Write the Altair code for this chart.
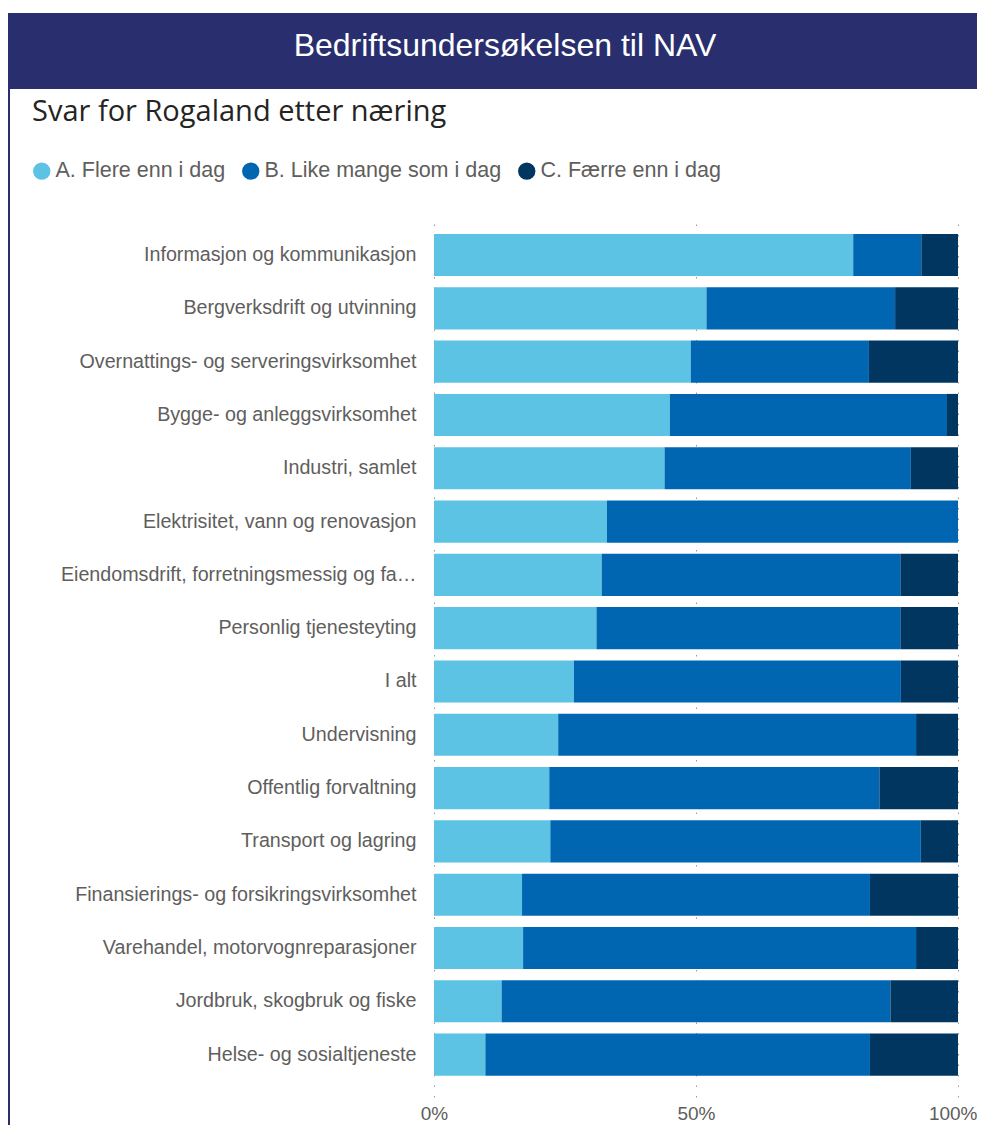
import altair as alt
import pandas as pd

# ---- data ----
categories = [
    "Informasjon og kommunikasjon",
    "Bergverksdrift og utvinning",
    "Overnattings- og serveringsvirksomhet",
    "Bygge- og anleggsvirksomhet",
    "Industri, samlet",
    "Elektrisitet, vann og renovasjon",
    "Eiendomsdrift, forretningsmessig og faglig tjenesteyting",
    "Personlig tjenesteyting",
    "I alt",
    "Undervisning",
    "Offentlig forvaltning",
    "Transport og lagring",
    "Finansierings- og forsikringsvirksomhet",
    "Varehandel, motorvognreparasjoner",
    "Jordbruk, skogbruk og fiske",
    "Helse- og sosialtjeneste",
]
flere = [80.0, 52.0, 49.0, 45.0, 44.0, 33.0, 32.0, 31.0, 26.7, 23.7, 22.0, 22.2, 16.8, 17.0, 12.9, 9.8]
like = [13.0, 36.0, 34.0, 52.9, 47.0, 67.0, 57.0, 58.0, 62.4, 68.3, 63.0, 70.7, 66.4, 75.0, 74.2, 73.4]
faerre = [7.0, 12.0, 17.0, 2.1, 9.0, 0.0, 11.0, 11.0, 10.9, 8.0, 15.0, 7.1, 16.8, 8.0, 12.9, 16.8]
series = ["A. Flere enn i dag", "B. Like mange som i dag", "C. Færre enn i dag"]
colors = ["#5CC3E5", "#0066B2", "#00365F"]
x_ticks = [0, 50, 100]
header_title = "Bedriftsundersøkelsen til NAV"
subtitle = "Svar for Rogaland etter næring"

rows = []
for i, cat in enumerate(categories):
    for j, (s, vals) in enumerate(zip(series, [flere, like, faerre])):
        rows.append({"naering": cat, "svar": s, "andel": vals[i], "ordre": j})
df = pd.DataFrame(rows)

PLOT_W, PLOT_H = 524, 875
NAVY = "#292F6E"
GRAY = "#605E5C"

bars = alt.Chart(df).mark_bar().encode(
    x=alt.X(
        "andel:Q",
        stack="zero",
        scale=alt.Scale(domain=[0, 100], nice=False),
        axis=alt.Axis(
            values=x_ticks, labelExpr="datum.value + '%'", title=None,
            grid=True, gridDash=[1.5, 9], gridColor="#9A9A9A",
            domain=False, ticks=False, labelPadding=7,
            labelFontSize=19, labelColor=GRAY, labelFont="Liberation Sans",
            labelAlign={"condition": {"test": "datum.value == 100", "value": "right"}, "value": "center"},
            labelOffset={"condition": {"test": "datum.value == 100", "value": 19}, "value": 0},
        ),
    ),
    y=alt.Y(
        "naering:N",
        sort=categories,
        scale=alt.Scale(paddingInner=0.21, paddingOuter=0.313, align=0.36),
        axis=alt.Axis(
            title=None, domain=False, ticks=False, labelPadding=18,
            labelFontSize=19.7, labelColor=GRAY, labelLimit=356,
            labelFont="Liberation Sans",
        ),
    ),
    color=alt.Color(
        "svar:N",
        scale=alt.Scale(domain=series, range=colors),
        legend=alt.Legend(
            orient="none", legendX=-403, legendY=-62, direction="horizontal",
            title=None, symbolType="circle", symbolSize=300, symbolStrokeWidth=0,
            labelFontSize=21.5, labelColor=GRAY, labelFont="Liberation Sans",
            labelLimit=400, columnPadding=14, labelOffset=3,
        ),
    ),
    order=alt.Order("ordre:Q", sort="ascending"),
)

head_df = pd.DataFrame({"t": [header_title]})
sub_df = pd.DataFrame({"t": [subtitle]})

header_rect = alt.Chart(head_df).mark_rect(color=NAVY).encode(
    x=alt.value(-426), x2=alt.value(560), y=alt.value(-209), y2=alt.value(-133)
)
left_border = alt.Chart(head_df).mark_rect(color=NAVY).encode(
    x=alt.value(-426), x2=alt.value(-424), y=alt.value(-133), y2=alt.value(PLOT_H + 60)
)
header_text = alt.Chart(head_df).mark_text(
    color="white", font="Liberation Sans", fontSize=32, align="center", baseline="alphabetic"
).encode(text="t:N", x=alt.value(71), y=alt.value(-166))
sub_text = alt.Chart(sub_df).mark_text(
    color="#252423", font="Open Sans", fontSize=29, align="left", baseline="alphabetic"
).encode(text="t:N", x=alt.value(-402), y=alt.value(-101))

chart = alt.layer(header_rect, left_border, header_text, sub_text, bars).properties(
    width=PLOT_W,
    height=PLOT_H,
    autosize=alt.AutoSizeParams(type="none"),
    padding={"left": 426, "top": 214, "right": 19, "bottom": 28},
    background="white",
).configure_view(stroke=None)

chart.save("out.html", embed_options={"renderer": "svg", "actions": False})
